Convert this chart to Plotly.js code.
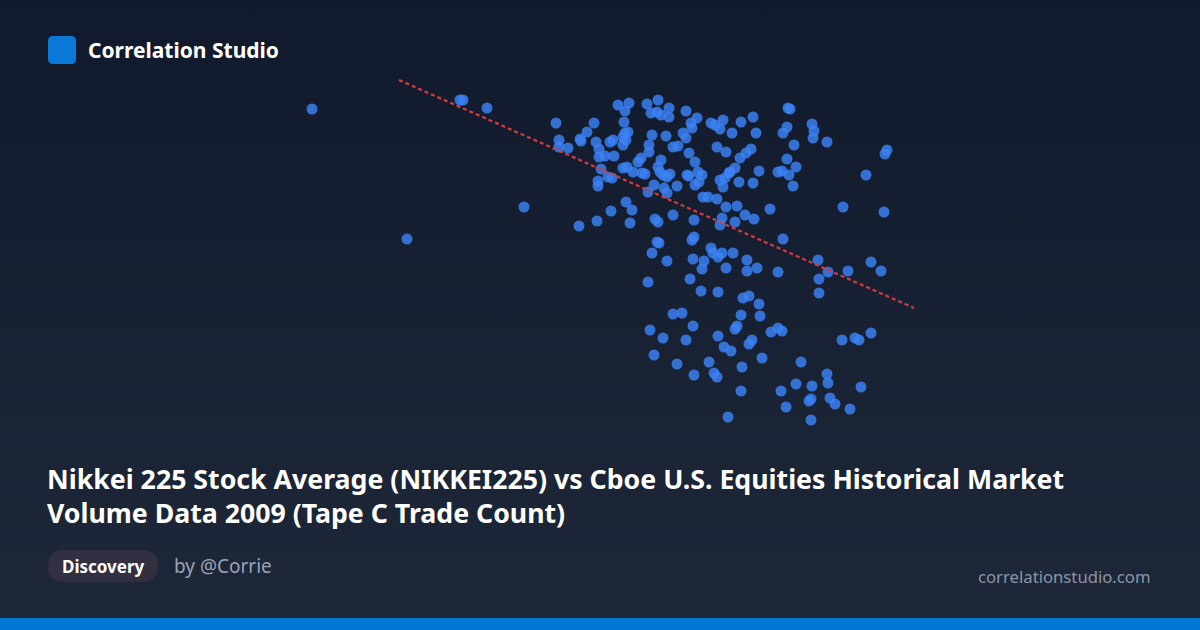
<!DOCTYPE html>
<html>
<head>
<meta charset="utf-8">
<script src="https://cdn.plot.ly/plotly-3.0.1.min.js"></script>
<style>
  html, body { margin: 0; padding: 0; width: 1200px; height: 630px; overflow: hidden; }
  body { background: linear-gradient(180deg, #111a2c 0%, #1e2839 100%); }
  #chart { width: 1200px; height: 630px; }
</style>
</head>
<body>
<div id="chart"></div>
<script>
// Values (hidden axes; units are the chart's own plot scale)
const nikkei = [
  312,407,460,463,487,524,556,559,559,568,580,581,587,594,596,599,599,605,610,613,
  601,608,598,598,579,597,611,626,632,630,
  618,629,625,647,658,651,657,661,669,669,686,691,697,692,711,715,723,720,732,741,
  753,756,624,625,628,623,626,623,652,666,683,686,614,649,649,673,678,689,717,726,
  751,746,740,641,638,661,695,623,627,633,645,642,658,660,663,670,667,687,689,698,
  702,699,695,612,654,677,667,664,648,703,708,717,729,735,720,723,739,753,759,778,
  726,737,745,754,770,722,720,735,694,673,655,658,788,790,787,783,812,814,813,827,
  794,887,885,787,796,782,789,793,866,843,884,783,730,725,
  657,659,692,694,652,667,711,713,718,722,733,693,704,702,726,648,690,701,718,743,
  749,759,747,747,757,778,818,828,819,819,848,871,881,
  673,682,741,760,650,693,663,686,718,735,737,771,778,782,752,749,724,731,654,677,
  709,694,714,717,742,762,741,728,801,827,828,796,812,781,811,809,830,835,786,811,
  850,861,842,855,859,871
];
const tradeCount = [
  109,239,100,100,108,207,123,140,147,148,139,141,132,123,142,149,157,156,142,140,
  169,177,181,186,226,221,211,202,210,223,
  105,103,111,104,100,113,112,115,108,117,111,123,118,128,123,125,120,129,133,122,
  117,133,122,133,132,137,140,145,135,136,133,138,156,145,152,147,146,153,147,152,
  149,153,158,158,162,160,162,168,167,172,174,173,167,172,175,174,177,175,176,172,
  175,182,185,178,185,186,193,188,192,197,197,199,173,168,180,187,182,183,171,172,
  207,206,215,219,209,218,225,222,220,215,219,222,108,109,127,133,124,131,138,142,
  145,150,154,159,167,171,175,186,175,207,212,239,172,178,
  242,243,240,237,253,261,248,253,257,253,253,259,261,269,268,282,279,291,292,298,
  296,304,260,271,268,272,260,272,279,293,271,262,271,
  314,313,315,316,330,326,338,340,336,329,326,332,328,331,340,344,347,351,355,364,
  362,375,373,377,367,358,391,417,362,374,383,384,386,391,399,401,398,404,407,420,
  409,387,340,338,340,333
];
// Trend line end points
const trendX = [399, 914];
const trendY = [80, 308];

const brand = "Correlation Studio";
const titleLines = [
  "Nikkei 225 Stock Average (NIKKEI225) vs Cboe U.S. Equities Historical Market",
  "Volume Data 2009 (Tape C Trade Count)"
];
const tag = "Discovery";
const author = "by @Corrie";
const site = "correlationstudio.com";

function rr(x0, y0, x1, y1, r) {
  return `M${x0+r},${y0} L${x1-r},${y0} Q${x1},${y0} ${x1},${y0+r} L${x1},${y1-r} Q${x1},${y1} ${x1-r},${y1} L${x0+r},${y1} Q${x0},${y1} ${x0},${y1-r} L${x0},${y0+r} Q${x0},${y0} ${x0+r},${y0} Z`;
}

const FONT = "Noto Sans, Open Sans, sans-serif";

const traces = [
  {
    type: "scatter", mode: "markers",
    x: nikkei, y: tradeCount,
    marker: { color: "#3b82f6", size: 11, opacity: 0.82, line: { width: 0 } },
    hoverinfo: "skip"
  },
  {
    type: "scatter", mode: "lines",
    x: trendX, y: trendY,
    line: { color: "#d93a3f", width: 2.2, dash: "4px,3px" },
    hoverinfo: "skip"
  }
];

const layout = {
  width: 1200, height: 630,
  margin: { l: 0, r: 0, t: 0, b: 0 },
  paper_bgcolor: "rgba(0,0,0,0)",
  plot_bgcolor: "rgba(0,0,0,0)",
  showlegend: false,
  xaxis: { range: [0, 1200], visible: false, fixedrange: true },
  yaxis: { range: [630, 0], visible: false, fixedrange: true },
  shapes: [
    { type: "path", xref: "x", yref: "y", path: rr(48, 36, 76, 64, 5), fillcolor: "#0a78d6", line: { width: 0 }, layer: "below" },
    { type: "path", xref: "x", yref: "y", path: rr(48, 550, 158, 582, 16), fillcolor: "#312f40", line: { width: 0 }, layer: "below" },
    { type: "rect", xref: "x", yref: "y", x0: 0, x1: 1200, y0: 618, y1: 630, fillcolor: "#0078d4", line: { width: 0 }, layer: "below" }
  ],
  annotations: [
    { text: "<b>" + brand + "</b>", x: 86, y: 50, xref: "x", yref: "y", xanchor: "left", yanchor: "middle", showarrow: false, font: { family: FONT, size: 21, color: "#ffffff" } },
    { text: "<b>" + titleLines[0] + "</b>", x: 45, y: 478, xref: "x", yref: "y", xanchor: "left", yanchor: "middle", showarrow: false, font: { family: FONT, size: 26.7, color: "#ffffff" } },
    { text: "<b>" + titleLines[1] + "</b>", x: 45, y: 512, xref: "x", yref: "y", xanchor: "left", yanchor: "middle", showarrow: false, font: { family: FONT, size: 26.7, color: "#ffffff" } },
    { text: "<b>" + tag + "</b>", x: 103, y: 566, xref: "x", yref: "y", xanchor: "center", yanchor: "middle", showarrow: false, font: { family: FONT, size: 17, color: "#ffffff" } },
    { text: author, x: 172, y: 566, xref: "x", yref: "y", xanchor: "left", yanchor: "middle", showarrow: false, font: { family: FONT, size: 19, color: "#9aa3b5" } },
    { text: site, x: 1153, y: 576, xref: "x", yref: "y", xanchor: "right", yanchor: "middle", showarrow: false, font: { family: FONT, size: 16.7, color: "#8b95a7" } }
  ]
};

Plotly.newPlot("chart", traces, layout, { staticPlot: true, displayModeBar: false });
</script>
</body>
</html>
